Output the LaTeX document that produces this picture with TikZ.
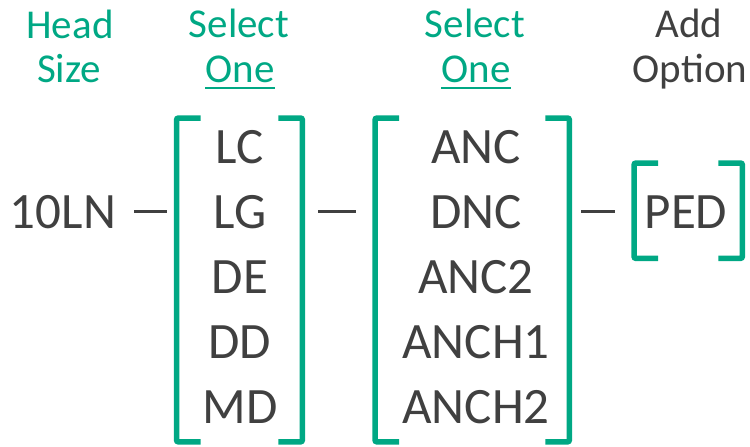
\documentclass[tikz,border=0pt]{standalone}
\usepackage{fontspec}
\setmainfont{Carlito}
\usepackage{tikz}
\usetikzlibrary{positioning, calc}

\definecolor{selgreen}{HTML}{00A884}
\definecolor{txtgrey}{HTML}{404040}

\begin{document}
\begin{tikzpicture}[x=1pt, y=-1pt,
    item/.style={anchor=base, inner sep=0pt, text=txtgrey, font=\fontsize{51}{51}\selectfont},
    head/.style={anchor=base, inner sep=0pt, font=\fontsize{41}{41}\selectfont},
    brk/.style={draw=selgreen, line width=5.5pt, rounded corners=2pt},
    box/.style={inner sep=0pt, anchor=north west},
    link/.style={draw=txtgrey, line width=3.5pt}]
    \useasboundingbox (0,0) rectangle (750,447);

    % Kopfzeilen
    \node[head, text=selgreen] (head) at (70,38) {Head};
    \node[head, text=selgreen] (size) at (69,82) {Size};
    \node[head, text=selgreen] (sel1) at (239,37) {Select};
    \node[head, text=selgreen] (one1) at (240,82) {One};
    \node[head, text=selgreen] (sel2) at (475,37) {Select};
    \node[head, text=selgreen] (one2) at (476,82) {One};
    \node[head, text=txtgrey] (add) at (689,37) {Add};
    \node[head, text=txtgrey] (opt) at (690,82) {Option};
    \draw[selgreen, line width=2.5pt] ([yshift=-6pt]one1.base west) -- ([yshift=-6pt]one1.base east);
    \draw[selgreen, line width=2.5pt] ([yshift=-6pt]one2.base west) -- ([yshift=-6pt]one2.base east);

    % Kopfgroesse
    \node[item] (ln) at (63,228) {10LN};

    % Auswahl 1
    \foreach \t [count=\i] in {LC,LG,DE,DD,MD}
        \node[item] (a\i) at (240,{98+65*\i}) {\t};

    % Auswahl 2
    \foreach \t [count=\i] in {ANC,DNC,ANC2,ANCH1,ANCH2}
        \node[item] (b\i) at (476,{98+65*\i}) {\t};

    % Option
    \node[item] (ped) at (686,228) {PED};

    % Klammern
    \node[box, minimum width=125.5pt, minimum height=323.5pt] (grpa) at (176.5,118) {};
    \node[box, minimum width=194pt, minimum height=323.5pt] (grpb) at (375,118) {};
    \node[box, minimum width=108pt, minimum height=95pt] (grpc) at (634,163) {};
    \foreach \g in {grpa,grpb,grpc} {
        \draw[brk] ([xshift=24pt]\g.north west) -- (\g.north west) -- (\g.south west) -- ([xshift=24pt]\g.south west);
        \draw[brk] ([xshift=-24pt]\g.north east) -- (\g.north east) -- (\g.south east) -- ([xshift=-24pt]\g.south east);
    }

    % Striche
    \draw[link, shorten <=18pt, shorten >=9.5pt] (ln.east) -- (ln.east -| grpa.west);
    \draw[link, shorten <=16pt, shorten >=19pt] (ln.east -| grpa.east) -- (ln.east -| grpb.west);
    \draw[link, shorten <=12pt, shorten >=19pt] (ln.east -| grpb.east) -- (ln.east -| grpc.west);
\end{tikzpicture}
\end{document}
